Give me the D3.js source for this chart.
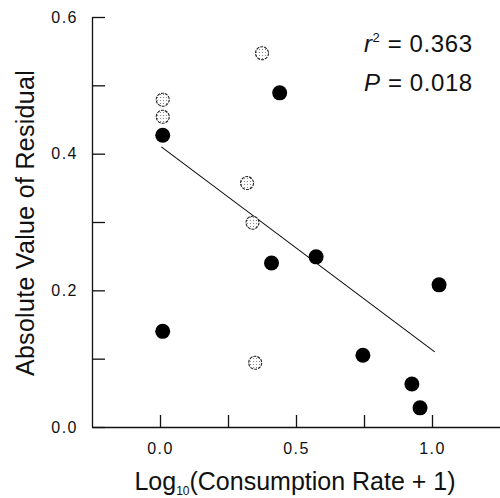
<!DOCTYPE html>
<html>
<head>
<meta charset="utf-8">
<script src="https://cdn.jsdelivr.net/npm/d3@7"></script>
<style>
  body { margin: 0; background: #fff; }
  text { font-family: "Liberation Sans", Arial, sans-serif; fill: #111; }
</style>
</head>
<body>
<script>
// values
const filledX = [0.01, 0.01, 0.44, 0.41, 0.574, 1.026, 0.746, 0.926, 0.956];
const filledY = [0.427, 0.14, 0.489, 0.24, 0.249, 0.208, 0.105, 0.063, 0.028];
const openX = [0.01, 0.01, 0.375, 0.32, 0.34, 0.35];
const openY = [0.479, 0.454, 0.547, 0.357, 0.299, 0.094];
const fitX = [0.005, 1.01];
const fitY = [0.41, 0.11];
const yTicks = [0, 0.2, 0.4, 0.6];
const yMinor = [0.1, 0.3, 0.5];
const xTicks = [0, 0.5, 1.0];
const xMinor = [0.25, 0.75];
const stats = [['r', '2', ' = 0.363'], ['P', '', ' = 0.018']];

let width = 500, height = 498;
let svg, xScale, yScale;

svg = d3.select('body')
  .append('svg')
  .attr('width', width)
  .attr('height', height);

// stipple used inside the open circles
let pat = svg.append('defs').append('pattern')
  .attr('id', 'dots')
  .attr('width', 3).attr('height', 3)
  .attr('patternUnits', 'userSpaceOnUse');
pat.append('rect').attr('width', 3).attr('height', 3).attr('fill', '#fff');
pat.append('circle').attr('cx', 1.5).attr('cy', 1.5).attr('r', 0.6).attr('fill', '#777');

xScale = d3.scaleLinear().domain([-0.25, 1.25]).range([92, 500]);
yScale = d3.scaleLinear().domain([0, 0.6]).range([427, 17]);

const styleAxis = g => {
  g.selectAll('path, line').attr('stroke', '#111').attr('stroke-width', 1.3);
  g.selectAll('text')
    .style('font-family', '"Liberation Sans", Arial, sans-serif')
    .style('font-size', '16px')
    .style('letter-spacing', '1.5px')
    .attr('fill', '#111');
};

// y axis, ticks point inward
svg.append('g')
  .attr('transform', 'translate(92,0)')
  .call(d3.axisLeft(yScale).tickValues(yTicks).tickFormat(d3.format('.1f'))
    .tickSize(-13).tickSizeOuter(0).tickPadding(14))
  .call(styleAxis);
svg.append('g')
  .attr('transform', 'translate(92,0)')
  .call(d3.axisLeft(yScale).tickValues(yMinor).tickFormat('').tickSize(-13).tickSizeOuter(0))
  .call(g => g.select('.domain').remove())
  .call(styleAxis);

// x axis
svg.append('g')
  .attr('transform', 'translate(0,427)')
  .call(d3.axisBottom(xScale).tickValues(xTicks).tickFormat(d3.format('.1f'))
    .tickSize(-12).tickSizeOuter(0).tickPadding(16))
  .call(styleAxis);
svg.append('g')
  .attr('transform', 'translate(0,427)')
  .call(d3.axisBottom(xScale).tickValues(xMinor).tickFormat('').tickSize(-12).tickSizeOuter(0))
  .call(g => g.select('.domain').remove())
  .call(styleAxis);

// regression line
svg.append('path')
  .datum(d3.zip(fitX, fitY))
  .attr('d', d3.line().x(d => xScale(d[0])).y(d => yScale(d[1])))
  .attr('stroke', '#111')
  .attr('stroke-width', 1.1)
  .attr('fill', 'none');

// open (stippled) points
svg.selectAll('circle.open')
  .data(d3.zip(openX, openY))
  .enter()
  .append('circle')
  .attr('class', 'open')
  .attr('cx', d => xScale(d[0]))
  .attr('cy', d => yScale(d[1]))
  .attr('r', 6.5)
  .attr('fill', 'url(#dots)')
  .attr('stroke', '#222')
  .attr('stroke-width', 1.1)
  .attr('stroke-dasharray', '3,1');

// filled points
svg.selectAll('circle.filled')
  .data(d3.zip(filledX, filledY))
  .enter()
  .append('circle')
  .attr('class', 'filled')
  .attr('cx', d => xScale(d[0]))
  .attr('cy', d => yScale(d[1]))
  .attr('r', 7.5)
  .attr('fill', '#000');

// stats text
stats.forEach((s, i) => {
  let t = svg.append('text')
    .attr('x', 364)
    .attr('y', 52 + i * 39)
    .style('font-size', '24px')
    .style('letter-spacing', '0.6px');
  t.append('tspan').style('font-style', 'italic').text(s[0]);
  if (s[1]) t.append('tspan').attr('dy', -10).style('font-size', '13px').text(s[1]);
  t.append('tspan').attr('dy', s[1] ? 10 : 0).text(s[2]);
});

// axis titles
svg.append('text')
  .attr('transform', 'translate(34,223) rotate(-90)')
  .attr('text-anchor', 'middle')
  .style('font-size', '25px')
  .style('letter-spacing', '0.3px')
  .text('Absolute Value of Residual');

let xt = svg.append('text')
  .attr('x', 295)
  .attr('y', 490)
  .attr('text-anchor', 'middle')
  .style('font-size', '25px');
xt.append('tspan').text('Log');
xt.append('tspan').attr('dy', 5).style('font-size', '12px').text('10');
xt.append('tspan').attr('dy', -5).text('(Consumption Rate  + 1)');
</script>
</body>
</html>
